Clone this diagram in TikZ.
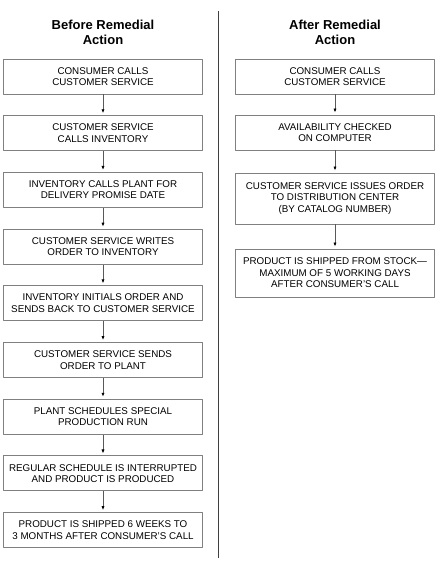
\documentclass[tikz,border=0pt]{standalone}
\usepackage{fontspec}
\setmainfont{Liberation Sans}
\usetikzlibrary{arrows.meta}
\definecolor{boxgray}{RGB}{128,128,128}
\definecolor{rulegray}{RGB}{64,64,64}
\begin{document}
\begin{tikzpicture}[x=1pt,y=-1pt,line join=round,
	stepbox/.style={draw=boxgray,line width=0.9pt,minimum width=198.5pt,minimum height=35pt,inner sep=0pt,align=center,font=\fontsize{9.8}{11.4}\selectfont},
	flow/.style={draw=gray!70!black,line width=0.8pt,-{Latex[length=4pt,width=3.2pt,color=black]},shorten >=2pt},
	heading/.style={align=center,font=\fontsize{13}{15}\selectfont\bfseries}]
	\useasboundingbox (0,0) rectangle (442,562);
	\def\dy{56.7};
	\def\xl{103};
	\def\xr{335};
	
	% before
	\node[heading] (titleL) at (\xl,32) {Before Remedial\\Action};
	\foreach \txt [count=\i] in {{CONSUMER CALLS\\CUSTOMER SERVICE},
		{CUSTOMER SERVICE\\CALLS INVENTORY},
		{INVENTORY CALLS PLANT FOR\\DELIVERY PROMISE DATE},
		{CUSTOMER SERVICE WRITES\\ORDER TO INVENTORY},
		{INVENTORY INITIALS ORDER AND\\SENDS BACK TO CUSTOMER SERVICE},
		{CUSTOMER SERVICE SENDS\\ORDER TO PLANT},
		{PLANT SCHEDULES SPECIAL\\PRODUCTION RUN},
		{REGULAR SCHEDULE IS INTERRUPTED\\AND PRODUCT IS PRODUCED},
		{PRODUCT IS SHIPPED 6 WEEKS TO\\3 MONTHS AFTER CONSUMER'S CALL}}
	{
		\node[stepbox] (L\i) at (\xl,{76.5+(\i-1)*\dy}) {\txt};
	}
	\foreach \i [evaluate=\i as \j using int(\i+1)] in {1,...,8}
		\draw[flow] (L\i) -- (L\j);
	
	% divider
	\coordinate (top) at (218.5,11);
	\coordinate (bottom) at (218.5,558);
	\draw[rulegray,line width=1.3pt] (top) -- (bottom);
	
	% after
	\node[heading] (titleR) at (\xr,32) {After Remedial\\Action};
	\node[stepbox] (R1) at (\xr,76.5) {CONSUMER CALLS\\CUSTOMER SERVICE};
	\node[stepbox] (R2) at (\xr,132.5) {AVAILABILITY CHECKED\\ON COMPUTER};
	\node[stepbox,minimum height=51pt] (R3) at (\xr,198.5) {CUSTOMER SERVICE ISSUES ORDER\\TO DISTRIBUTION CENTER\\(BY CATALOG NUMBER)};
	\node[stepbox,minimum height=48pt] (R4) at (\xr,273) {PRODUCT IS SHIPPED FROM STOCK---\\MAXIMUM OF 5 WORKING DAYS\\AFTER CONSUMER'S CALL};
	\foreach \i [evaluate=\i as \j using int(\i+1)] in {1,2,3}
		\draw[flow] (R\i) -- (R\j);
	
\end{tikzpicture}
\end{document}
